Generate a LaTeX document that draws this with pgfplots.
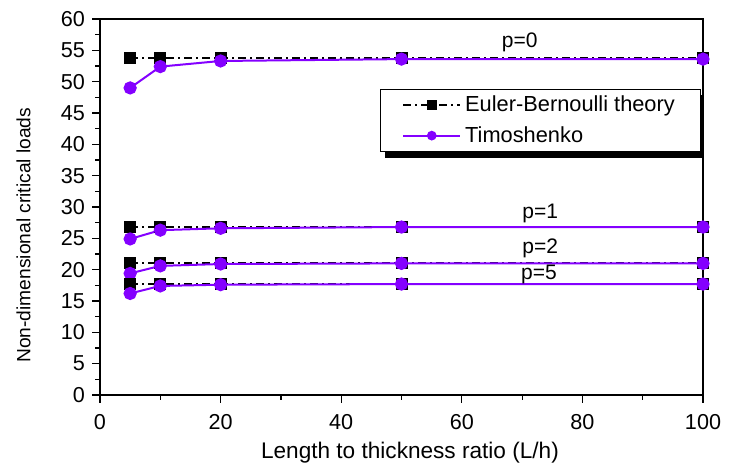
\documentclass[border=0pt]{standalone}
\usepackage{fontspec}
\setmainfont{Liberation Sans}
\usepackage{pgfplots}
\pgfplotsset{compat=1.18}
\definecolor{timo}{RGB}{132,0,255}

\begin{document}
\begin{tikzpicture}
\begin{axis}[
    scale only axis,
    width=301.5pt, height=188pt,
    xmin=0, xmax=100, ymin=0, ymax=60,
    xtick={0,20,...,100}, ytick={0,5,...,60},
    minor x tick num=1, minor y tick num=1,
    axis line style={line width=0.8pt},
    tick style={black, line width=0.6pt},
    major tick length=4pt, minor tick length=2.5pt,
    tick align=outside,
    xtick pos=bottom, ytick pos=left,
    tick label style={font=\fontsize{10.8}{12}\selectfont},
    xticklabel style={yshift=-2pt},
    /pgf/number format/assume math mode=true,
    xlabel={Length to thickness ratio (L/h)},
    ylabel={Non-dimensional critical loads},
    xlabel style={font=\fontsize{11.3}{13}\selectfont,
        at={(axis description cs:0.514,-0.154)}, anchor=center},
    ylabel style={font=\fontsize{9.6}{11}\selectfont,
        at={(axis description cs:-0.127,0.425)}, anchor=center},
    legend style={
        at={(0.464,0.814)}, anchor=north west,
        draw=black, line width=0.5pt, fill=white,
        font=\fontsize{10.9}{12}\selectfont,
        inner xsep=11pt, inner ysep=1pt,
        row sep=2pt,
        /tikz/every even column/.append style={column sep=2pt}
    },
    legend cell align=left,
    legend image code/.code={
        \draw[mark repeat=2, mark phase=2, #1]
        plot coordinates {(0cm,0cm) (0.5cm,0cm) (1.0cm,0cm)};
    },
    legend image post style={mark size=1.9pt},
]
% drop shadow of the legend box
\fill[black] (rel axis cs:0.4726,0.630) rectangle (rel axis cs:1.0,0.798);

% Euler-Bernoulli
\addplot[black, line width=1pt, dash pattern=on 4pt off 2pt on 1pt off 2pt,
    mark=square*, mark size=2.5pt, mark options={solid}]
    coordinates {(5,53.7) (10,53.7) (20,53.7) (50,53.7) (100,53.7)};
\addlegendentry{Euler-Bernoulli theory}
\addplot[timo, line width=1pt, mark=*, mark size=2.8pt]
    coordinates {(5,49.0) (10,52.4) (20,53.3) (50,53.6) (100,53.6)};
\addlegendentry{Timoshenko}
\addplot[black, line width=1pt, dash pattern=on 4pt off 2pt on 1pt off 2pt,
    mark=square*, mark size=2.5pt, mark options={solid}, forget plot]
    coordinates {(5,26.8) (10,26.8) (20,26.8) (50,26.8) (100,26.8)};
\addplot[timo, line width=1pt, mark=*, mark size=2.8pt, forget plot]
    coordinates {(5,24.9) (10,26.3) (20,26.6) (50,26.8) (100,26.8)};
\addplot[black, line width=1pt, dash pattern=on 4pt off 2pt on 1pt off 2pt,
    mark=square*, mark size=2.5pt, mark options={solid}, forget plot]
    coordinates {(5,21.0) (10,21.0) (20,21.0) (50,21.0) (100,21.0)};
\addplot[timo, line width=1pt, mark=*, mark size=2.8pt, forget plot]
    coordinates {(5,19.4) (10,20.6) (20,20.9) (50,21.0) (100,21.0)};
\addplot[black, line width=1pt, dash pattern=on 4pt off 2pt on 1pt off 2pt,
    mark=square*, mark size=2.5pt, mark options={solid}, forget plot]
    coordinates {(5,17.7) (10,17.7) (20,17.7) (50,17.7) (100,17.7)};
\addplot[timo, line width=1pt, mark=*, mark size=2.8pt, forget plot]
    coordinates {(5,16.2) (10,17.4) (20,17.6) (50,17.7) (100,17.7)};

\node[font=\fontsize{10.5}{12}\selectfont] at (axis cs:69.6,56.3) {p=0};
\node[font=\fontsize{10.5}{12}\selectfont] at (axis cs:73,28.9) {p=1};
\node[font=\fontsize{10.5}{12}\selectfont] at (axis cs:73,23.4) {p=2};
\node[font=\fontsize{10.5}{12}\selectfont] at (axis cs:72.8,19.2) {p=5};
\end{axis}
\pgfresetboundingbox
\path ([shift={(-50pt,-36pt)}]current axis.south west) rectangle ([shift={(17pt,9.5pt)}]current axis.north east);
\end{tikzpicture}
\end{document}
